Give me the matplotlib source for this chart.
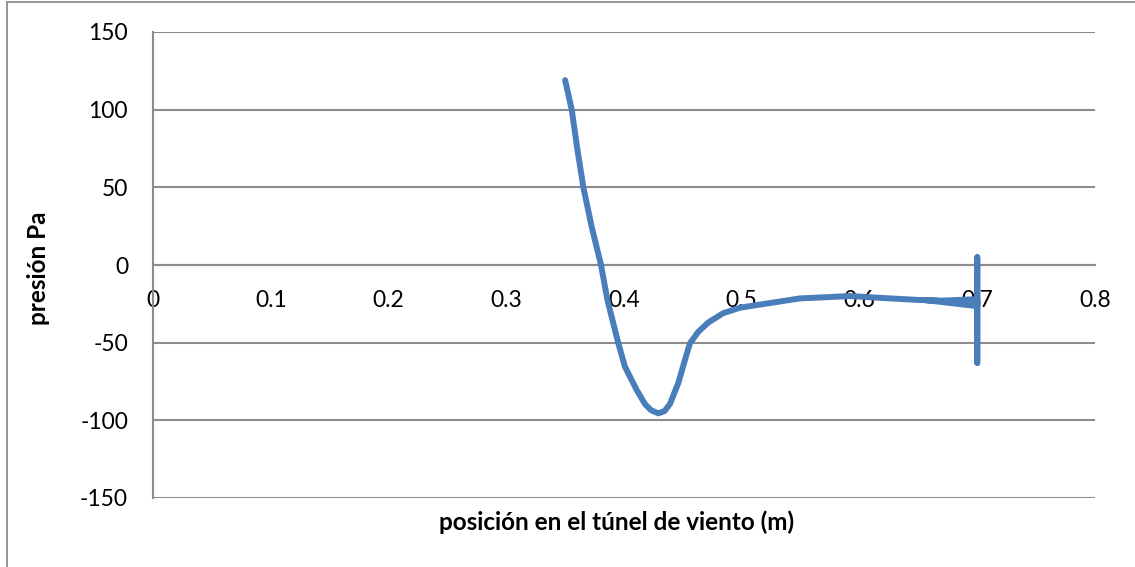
import matplotlib
matplotlib.use('Agg')
import matplotlib.pyplot as plt
from matplotlib.patches import Rectangle

# datos
posicion = [0.3500, 0.3556, 0.3603, 0.3655, 0.3725, 0.3805, 0.3859, 0.3952, 0.4008, 0.4108,
            0.4178, 0.4230, 0.4291, 0.4345, 0.4390, 0.4461, 0.4518, 0.4560, 0.4631, 0.4716,
            0.4843, 0.4985, 0.5127, 0.5495, 0.5920, 0.6260, 0.6500, 0.6684,
            0.700, 0.700, 0.655, 0.700, 0.700, 0.700, 0.700]
presion = [119, 100, 75, 50, 24.7, 0, -22.5, -50.4, -65.5, -80.5,
           -89.5, -93.5, -95.5, -94, -89.5, -76, -61, -50.4, -43, -37,
           -31, -27.5, -25.8, -21.5, -20, -21.5, -22.5, -23,
           -22, -26.5, -22.5, -24.5, 5, -63, -24]

x_ticks = [0, 0.1, 0.2, 0.3, 0.4, 0.5, 0.6, 0.7, 0.8]
y_ticks = [-150, -100, -50, 0, 50, 100, 150]

gris = '#8c8c8c'
azul = '#4a7ebb'

plt.rcParams['font.family'] = ['Lato', 'DejaVu Sans']

fig = plt.figure(figsize=(11.35, 5.67), dpi=100)
# borde del area del grafico
fig.patches.append(Rectangle((7 / 1135, -0.1), 1.2, 1.1 - 2 / 567, transform=fig.transFigure,
                             fill=False, edgecolor=gris, linewidth=1.3))

ax = fig.add_axes([153 / 1135, 1 - 498 / 567, (1095 - 153) / 1135, (498 - 32) / 567])
ax.plot(posicion, presion, color=azul, linewidth=4.3, solid_capstyle='round',
        solid_joinstyle='round', zorder=3)

ax.set_xlim(0, 0.8)
ax.set_ylim(-150, 150)
ax.set_xticks(x_ticks)
ax.set_xticklabels([str(t) for t in x_ticks])
ax.set_yticks(y_ticks)
ax.set_yticklabels([str(t) for t in y_ticks])

for t in y_ticks:
    ax.axhline(t, color=gris, linewidth=1.5, zorder=1)

for s in ['top', 'right']:
    ax.spines[s].set_visible(False)
ax.spines['bottom'].set_position(('data', 0))
ax.spines['bottom'].set_color(gris)
ax.spines['bottom'].set_linewidth(1.5)
ax.spines['left'].set_color(gris)
ax.spines['left'].set_linewidth(1.5)

ax.tick_params(axis='both', length=0, labelsize=16.5)
ax.tick_params(axis='x', pad=18)
ax.tick_params(axis='y', pad=18)

fig.text(617 / 1135, 1 - 522 / 567, 'posición en el túnel de viento (m)',
         ha='center', va='center', fontsize=17.5, fontweight='bold')
fig.text(38 / 1135, 1 - 268 / 567, 'presión Pa', rotation=90,
         ha='center', va='center', fontsize=17.5, fontweight='bold')

fig.savefig('out.png', dpi=100)
